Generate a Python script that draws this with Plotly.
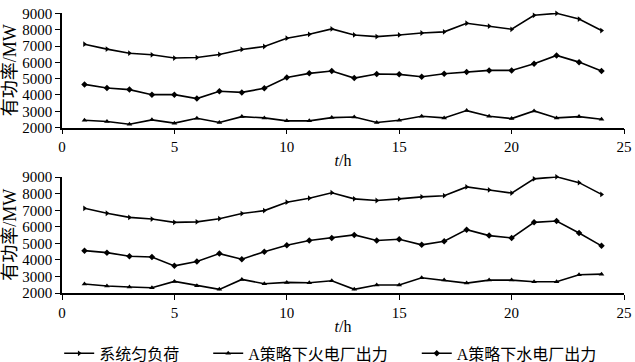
import plotly.graph_objects as go
from plotly.subplots import make_subplots

hours = list(range(1, 25))
load = [7120, 6820, 6570, 6470, 6270, 6300, 6490, 6800, 6980, 7490, 7730, 8060,
        7690, 7590, 7690, 7810, 7880, 8410, 8230, 8040, 8900, 9020, 8670, 7960]
thermal_top = [2450, 2370, 2200, 2470, 2270, 2570, 2310, 2670, 2590, 2410, 2410, 2610,
               2650, 2310, 2450, 2690, 2590, 3040, 2690, 2550, 3020, 2590, 2670, 2510]
hydro_top = [4650, 4430, 4330, 4020, 4020, 3780, 4230, 4160, 4410, 5080, 5330, 5470,
             5040, 5290, 5270, 5120, 5310, 5410, 5510, 5510, 5920, 6430, 6020, 5470]
thermal_bot = [2540, 2420, 2360, 2320, 2700, 2440, 2220, 2820, 2560, 2640, 2620, 2740,
               2220, 2480, 2480, 2920, 2780, 2600, 2780, 2780, 2680, 2680, 3100, 3140]
hydro_bot = [4560, 4440, 4220, 4180, 3640, 3900, 4380, 4040, 4500, 4890, 5170, 5330,
             5510, 5170, 5250, 4910, 5130, 5830, 5470, 5330, 6270, 6350, 5630, 4850]

names = ["系统匀负荷", "A策略下火电厂出力", "A策略下水电厂出力"]
x_ticks = [0, 5, 10, 15, 20, 25]
y_ticks = [2000, 3000, 4000, 5000, 6000, 7000, 8000, 9000]

FONT = '"Liberation Serif", "Noto Sans CJK SC", serif'
PAD = "\u00a0" * 6

fig = make_subplots(rows=2, cols=1, vertical_spacing=0.175)

def add(row, ys, name, symbol, show, pad):
    fig.add_trace(go.Scatter(
        x=hours, y=ys, mode="lines+markers", name=name + pad, showlegend=show,
        cliponaxis=False,
        line=dict(color="black", width=1.6),
        marker=dict(symbol=symbol, size=5, color="black"),
    ), row=row, col=1)

for r, th, hy in [(1, thermal_top, hydro_top), (2, thermal_bot, hydro_bot)]:
    show = r == 1
    add(r, load, names[0], "triangle-right", show, PAD)
    add(r, th, names[1], "triangle-up", show, PAD)
    add(r, hy, names[2], "diamond", show, "")

axis_common = dict(showline=True, linecolor="black", linewidth=1.5, ticks="outside",
                   ticklen=5, tickcolor="black", tickwidth=1.2, showgrid=False,
                   zeroline=False, automargin=False,
                   tickfont=dict(size=15, color="black", family=FONT))

for r in (1, 2):
    fig.update_xaxes(range=[0, 25], tickvals=x_ticks, **axis_common,
                     title=dict(text="<i>t</i>/h", font=dict(size=16, color="black", family=FONT),
                                standoff=1),
                     row=r, col=1)
    fig.update_yaxes(range=[2000, 9040], tickvals=y_ticks, **axis_common,
                     title=dict(text="有功率/MW", font=dict(size=18, color="black", family=FONT),
                                standoff=2),
                     row=r, col=1)

fig.update_layout(
    width=635, height=362,
    margin=dict(l=62, r=11, t=13, b=69, autoexpand=False),
    plot_bgcolor="white", paper_bgcolor="white",
    font=dict(family=FONT, color="black"),
    legend=dict(orientation="h", x=-0.005, xanchor="left", y=-0.155, yanchor="top",
                font=dict(size=16, color="black", family=FONT),
                itemwidth=30, tracegroupgap=0),
)
fig.update_yaxes(domain=[0.591, 1.0], row=1, col=1)
fig.update_yaxes(domain=[0.0, 0.416], row=2, col=1)

fig.write_html("out.html", config={"displayModeBar": False},
               post_script="document.body.style.margin='0';")
